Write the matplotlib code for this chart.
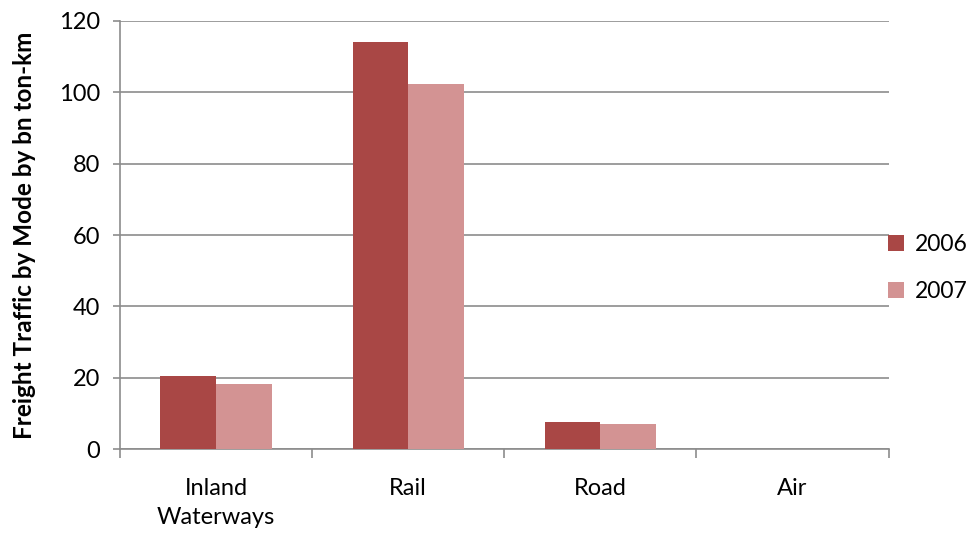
import numpy as np
import matplotlib
matplotlib.use("Agg")
import matplotlib.pyplot as plt

# data
modes = ["Inland\nWaterways", "Rail", "Road", "Air"]
years = ["2006", "2007"]
vals_2006 = [20.5, 114.0, 7.5, 0.0]
vals_2007 = [18.3, 102.2, 7.0, 0.0]
y_ticks = [0, 20, 40, 60, 80, 100, 120]

plt.rcParams["font.family"] = ["Lato", "DejaVu Sans"]

C06 = "#A94745"
C07 = "#D39393"
GRID = "#8c8c8c"

fig = plt.figure(figsize=(9.67, 5.36), dpi=100)
ax = fig.add_axes([0.124, 0.162, 0.795, 0.799])

x = np.arange(len(modes))
w = 0.289
ax.bar(x - w / 2, vals_2006, w, color=C06, label=years[0], zorder=3)
ax.bar(x + w / 2, vals_2007, w, color=C07, label=years[1], zorder=3)

ax.set_xlim(-0.5, len(modes) - 0.5)
ax.set_ylim(0, 120)
ax.set_yticks(y_ticks)
ax.yaxis.grid(True, color=GRID, lw=1.2, zorder=0)

# category labels centred, tick marks on the category boundaries
ax.set_xticks(x)
ax.set_xticklabels(modes, fontsize=17, linespacing=1.45)
ax.set_xticks(np.arange(-0.5, len(modes)), minor=True)
ax.tick_params(axis="x", which="major", length=0, pad=21)
ax.tick_params(axis="x", which="minor", length=6.5, color=GRID, width=1.2)
ax.tick_params(axis="y", length=5, color=GRID, width=1.2, labelsize=17, pad=9)

for s in ["top", "right"]:
    ax.spines[s].set_visible(False)
for s in ["left", "bottom"]:
    ax.spines[s].set_color(GRID)
    ax.spines[s].set_linewidth(1.2)

ax.set_ylabel("Freight Traffic by Mode by bn ton-km", fontsize=17.5,
              fontweight="bold", labelpad=17)

ax.legend(loc="center left", bbox_to_anchor=(0.9987, 0.423), frameon=False,
          fontsize=16.5, handlelength=0.7, handleheight=0.7, handletextpad=0.5,
          labelspacing=1.1, borderaxespad=0, borderpad=0)

plt.savefig("out.png", dpi=100)
